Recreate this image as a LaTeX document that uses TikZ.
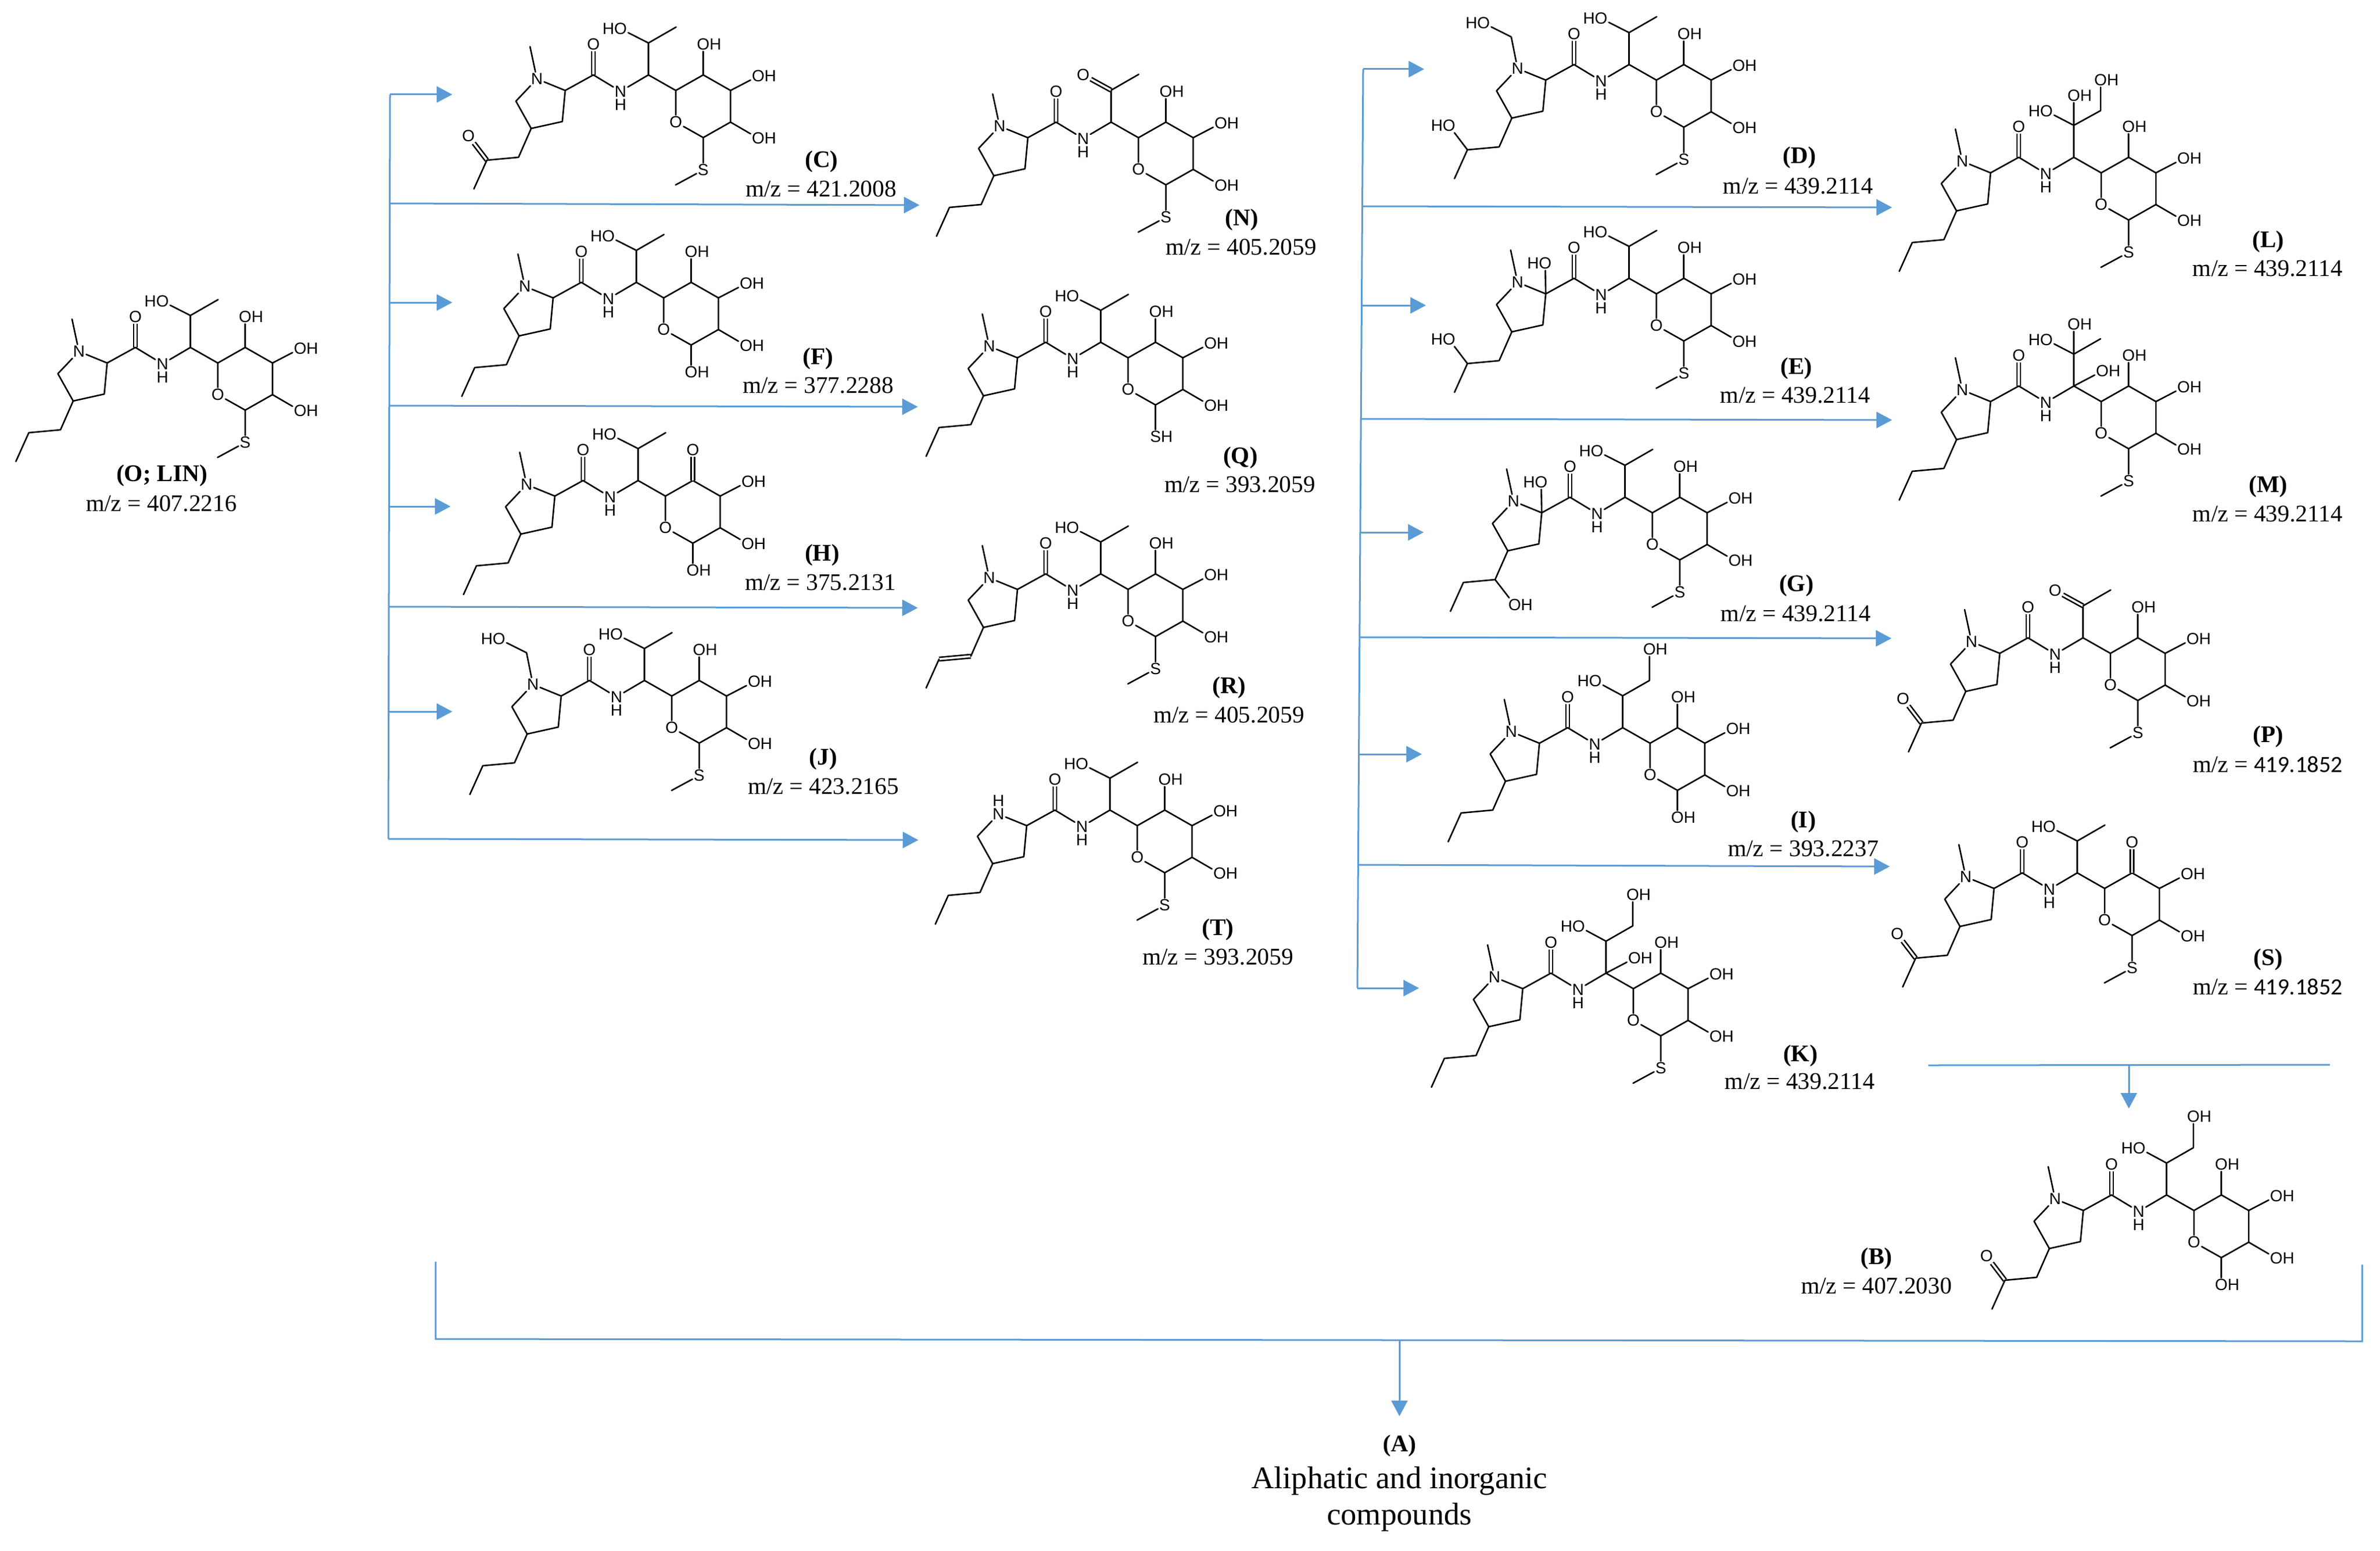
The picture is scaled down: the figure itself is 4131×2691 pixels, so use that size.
\documentclass[tikz,border=0pt]{standalone}
\usepackage{fontspec}
\setmainfont{Liberation Serif}
\newfontfamily\atomfont{Liberation Sans}
\newfontfamily\calfont{Carlito}
\usetikzlibrary{arrows.meta}
\definecolor{flowblue}{HTML}{5B9BD5}
\begin{document}
\begin{tikzpicture}[%
  x=0.01cm,
  y=-0.01cm,
  atomstyle/.style={%
    inner sep=0.012cm,
    outer sep=0.012cm,
    font=\atomfont\fontsize{8}{8}\selectfont,
  },
  bondstyle/.style={%
    line width=0.026cm,
    line cap=round,
    line join=round,
  },
  dbondstyle/.style={%
    bondstyle,
    line cap=butt,
    double,
    double distance=0.035cm,
  },
  flowstyle/.style={%
    draw=flowblue,
    line width=0.03cm,
  },
  arrowstyle/.style={%
    flowstyle,
    -{Triangle[length=0.27cm,width=0.28cm,fill=flowblue]},
  },
  tagstyle/.style={%
    font=\bfseries\fontsize{11.8}{14}\selectfont,
    inner sep=0pt,
  },
  mzstyle/.style={%
    font=\fontsize{11.8}{14}\selectfont,
    inner sep=0pt,
  },
  namestyle/.style={%
    font=\fontsize{15.5}{20}\selectfont,
    inner sep=0pt,
    anchor=base,
  },
  % amide carbon is the origin of every molecule
  pics/core/.style={code={%
    \coordinate (-co) at (0,0);
    \coordinate (-c2) at (-49,27);
    \coordinate (-c3) at (-54,81);
    \coordinate (-c4) at (-108,93);
    \coordinate (-c5) at (-134.5,45.6);
    \coordinate (-c1) at (95.5,0);
    \coordinate (-c6) at (95.5,-55.4);
    \coordinate (-r5) at (143,27);
    \coordinate (-r4) at (190.6,0);
    \coordinate (-r3) at (238,27);
    \coordinate (-r2) at (238,82);
    \coordinate (-r1) at (190.6,108.8);
    \node [atomstyle] (-n) at (-98,7) {N};
    \node [atomstyle] (-oa) at (0,-53) {O};
    \node [atomstyle] (-nh) at (47,28.5) {N};
    \node [atomstyle] (-hh) at (47,51.5) {H};
    \node [atomstyle] (-or) at (143,82) {O};
    \node [atomstyle] (-oh3) at (286,2) {O\rlap{H}};
    \node [atomstyle] (-oh2) at (286,110) {O\rlap{H}};
    \draw [dbondstyle] (-co) -- (-oa);
    \draw [bondstyle] (-n) -- (-c5) -- (-c4) -- (-c3) -- (-c2) -- (-n);
    \draw [bondstyle] (-c2) -- (-co) -- (-nh) -- (-c1) -- (-r5) -- (-r4) -- (-r3) -- (-r2) -- (-r1) -- (-or) -- (-r5);
    \draw [bondstyle] (-c1) -- (-c6);
    \draw [bondstyle] (-r3) -- (-oh3);
    \draw [bondstyle] (-r2) -- (-oh2);
  }},
  pics/nmethyl/.style={code={%
    \coordinate (-me) at (-110,-49);
    \draw [bondstyle] (-n) -- (-me);
  }},
  pics/nhydroxymethyl/.style={code={%
    \coordinate (-ch) at (-109,-48);
    \node [atomstyle] (-ho) at (-157,-72) {\llap{H}O};
    \draw [bondstyle] (-n) -- (-ch) -- (-ho);
  }},
  pics/nhydrogen/.style={code={%
    \node [atomstyle] (-hn) at (-98,-16) {H};
  }},
  pics/propyl/.style={code={%
    \coordinate (-a) at (-130,143);
    \coordinate (-b) at (-185,148);
    \coordinate (-e) at (-207.5,198);
    \draw [bondstyle] (-c4) -- (-a) -- (-b) -- (-e);
  }},
  pics/propenyl/.style={code={%
    \coordinate (-a) at (-130,143);
    \coordinate (-b) at (-185,148);
    \coordinate (-e) at (-207.5,198);
    \draw [dbondstyle] (-a) -- (-b);
    \draw [bondstyle] (-c4) -- (-a);
    \draw [bondstyle] (-b) -- (-e);
  }},
  pics/oxopropyl/.style={code={%
    \coordinate (-a) at (-130,143);
    \coordinate (-b) at (-185,148);
    \coordinate (-e) at (-207.5,198);
    \node [atomstyle] (-ok) at (-217,106) {O};
    \draw [dbondstyle] (-b) -- (-ok);
    \draw [bondstyle] (-c4) -- (-a) -- (-b) -- (-e);
  }},
  pics/hydroxypropyl/.style={code={%
    \coordinate (-a) at (-130,143);
    \coordinate (-b) at (-185,148);
    \coordinate (-e) at (-207.5,198);
    \node [atomstyle] (-ok) at (-217,106) {\llap{H}O};
    \draw [bondstyle] (-b) -- (-ok);
    \draw [bondstyle] (-c4) -- (-a) -- (-b) -- (-e);
  }},
  pics/alphahydroxypropyl/.style={code={%
    \coordinate (-a) at (-130,143);
    \coordinate (-b) at (-185,148);
    \coordinate (-e) at (-207.5,198);
    \node [atomstyle] (-ok) at (-96,187) {O\rlap{H}};
    \draw [bondstyle] (-a) -- (-ok);
    \draw [bondstyle] (-c4) -- (-a) -- (-b) -- (-e);
  }},
  pics/ringhydroxy/.style={code={%
    \node [atomstyle] (-oc2) at (-50,-26) {\llap{H}O};
    \draw [bondstyle] (-c2) -- (-oc2);
  }},
  pics/hydroxyethyl/.style={code={%
    \node [atomstyle] (-ho6) at (47,-80) {\llap{H}O};
    \coordinate (-m6) at (143.5,-83);
    \draw [bondstyle] (-ho6) -- (-c6) -- (-m6);
  }},
  pics/acetyl/.style={code={%
    \node [atomstyle] (-o6) at (47,-82) {O};
    \coordinate (-m6) at (143.5,-83);
    \draw [dbondstyle] (-c6) -- (-o6);
    \draw [bondstyle] (-c6) -- (-m6);
  }},
  pics/diol/.style={code={%
    \node [atomstyle] (-ho6) at (48,-81) {\llap{H}O};
    \coordinate (-m6) at (142,-82);
    \node [atomstyle] (-ho7) at (142,-136) {O\rlap{H}};
    \draw [bondstyle] (-ho6) -- (-c6) -- (-m6) -- (-ho7);
  }},
  pics/triol/.style={code={%
    \node [atomstyle] (-ho6) at (48,-80) {\llap{H}O};
    \node [atomstyle] (-ho8) at (95.5,-107) {O\rlap{H}};
    \coordinate (-m6) at (142,-81);
    \node [atomstyle] (-ho7) at (142,-134) {O\rlap{H}};
    \draw [bondstyle] (-ho6) -- (-c6) -- (-m6) -- (-ho7);
    \draw [bondstyle] (-c6) -- (-ho8);
  }},
  pics/geminaldiol/.style={code={%
    \node [atomstyle] (-ho6) at (48,-80) {\llap{H}O};
    \node [atomstyle] (-ho8) at (95.5,-107) {O\rlap{H}};
    \coordinate (-m6) at (142,-82);
    \draw [bondstyle] (-ho6) -- (-c6) -- (-m6);
    \draw [bondstyle] (-c6) -- (-ho8);
  }},
  pics/cahydroxy/.style={code={%
    \node [atomstyle] (-ohc) at (145,-26) {O\rlap{H}};
    \draw [bondstyle] (-c1) -- (-ohc);
  }},
  pics/sugaroh/.style={code={%
    \node [atomstyle] (-oh4) at (190.6,-53) {O\rlap{H}};
    \draw [bondstyle] (-r4) -- (-oh4);
  }},
  pics/sugarketo/.style={code={%
    \node [atomstyle] (-oh4) at (190.6,-53) {O};
    \draw [dbondstyle] (-r4) -- (-oh4);
  }},
  pics/thiomethyl/.style={code={%
    \node [atomstyle] (-s) at (190.6,165) {S};
    \coordinate (-sm) at (142.6,191);
    \draw [bondstyle] (-r1) -- (-s) -- (-sm);
  }},
  pics/thiol/.style={code={%
    \node [atomstyle] (-s) at (190.6,164) {S\rlap{H}};
    \draw [bondstyle] (-r1) -- (-s);
  }},
  pics/anomerichydroxy/.style={code={%
    \node [atomstyle] (-oh1) at (190.6,156) {O\rlap{H}};
    \draw [bondstyle] (-r1) -- (-oh1);
  }},
]
  \useasboundingbox (0,0) rectangle (4131,2691);

  % molecules
  \path (235,603) pic (O) {core} pic (O) {nmethyl} pic (O) {propyl} pic (O) {hydroxyethyl} pic (O) {sugaroh} pic (O) {thiomethyl};
  \path (1030,130) pic (C) {core} pic (C) {nmethyl} pic (C) {oxopropyl} pic (C) {hydroxyethyl} pic (C) {sugaroh} pic (C) {thiomethyl};
  \path (1009,490) pic (F) {core} pic (F) {nmethyl} pic (F) {propyl} pic (F) {hydroxyethyl} pic (F) {sugaroh} pic (F) {anomerichydroxy};
  \path (1012,834) pic (H) {core} pic (H) {nmethyl} pic (H) {propyl} pic (H) {hydroxyethyl} pic (H) {sugarketo} pic (H) {anomerichydroxy};
  \path (1023,1181) pic (J) {core} pic (J) {nhydroxymethyl} pic (J) {propyl} pic (J) {hydroxyethyl} pic (J) {sugaroh} pic (J) {thiomethyl};
  \path (1833,212) pic (N) {core} pic (N) {nmethyl} pic (N) {propyl} pic (N) {acetyl} pic (N) {sugaroh} pic (N) {thiomethyl};
  \path (1815,594) pic (Q) {core} pic (Q) {nmethyl} pic (Q) {propyl} pic (Q) {hydroxyethyl} pic (Q) {sugaroh} pic (Q) {thiol};
  \path (1815,996) pic (R) {core} pic (R) {nmethyl} pic (R) {propenyl} pic (R) {hydroxyethyl} pic (R) {sugaroh} pic (R) {thiomethyl};
  \path (1831,1406) pic (T) {core} pic (T) {nhydrogen} pic (T) {propyl} pic (T) {hydroxyethyl} pic (T) {sugaroh} pic (T) {thiomethyl};
  \path (2732,112) pic (D) {core} pic (D) {nhydroxymethyl} pic (D) {hydroxypropyl} pic (D) {hydroxyethyl} pic (D) {sugaroh} pic (D) {thiomethyl};
  \path (2732,483) pic (E) {core} pic (E) {nmethyl} pic (E) {ringhydroxy} pic (E) {hydroxypropyl} pic (E) {hydroxyethyl} pic (E) {sugaroh} pic (E) {thiomethyl};
  \path (2725,863) pic (G) {core} pic (G) {nmethyl} pic (G) {ringhydroxy} pic (G) {alphahydroxypropyl} pic (G) {hydroxyethyl} pic (G) {sugaroh} pic (G) {thiomethyl};
  \path (2721,1263) pic (I) {core} pic (I) {nmethyl} pic (I) {propyl} pic (I) {diol} pic (I) {sugaroh} pic (I) {anomerichydroxy};
  \path (2692,1689) pic (K) {core} pic (K) {nmethyl} pic (K) {propyl} pic (K) {diol} pic (K) {cahydroxy} pic (K) {sugaroh} pic (K) {thiomethyl};
  \path (3504,273) pic (L) {core} pic (L) {nmethyl} pic (L) {propyl} pic (L) {triol} pic (L) {sugaroh} pic (L) {thiomethyl};
  \path (3504,670) pic (M) {core} pic (M) {nmethyl} pic (M) {propyl} pic (M) {geminaldiol} pic (M) {cahydroxy} pic (M) {sugaroh} pic (M) {thiomethyl};
  \path (3520,1107) pic (P) {core} pic (P) {nmethyl} pic (P) {oxopropyl} pic (P) {acetyl} pic (P) {sugaroh} pic (P) {thiomethyl};
  \path (3510,1515) pic (S) {core} pic (S) {nmethyl} pic (S) {oxopropyl} pic (S) {hydroxyethyl} pic (S) {sugarketo} pic (S) {thiomethyl};
  \path (3665,2074) pic (B) {core} pic (B) {nmethyl} pic (B) {oxopropyl} pic (B) {diol} pic (B) {sugaroh} pic (B) {anomerichydroxy};

  % labels
  \node [tagstyle] (tagO) at (281,826) {(O; LIN)};
  \node [mzstyle] (mzO) at (280,874) {m/z = 407.2216};
  \node [tagstyle] (tagC) at (1426,281) {(C)};
  \node [mzstyle] (mzC) at (1425,328) {m/z = 421.2008};
  \node [tagstyle] (tagF) at (1420,623) {(F)};
  \node [mzstyle] (mzF) at (1420,669) {m/z = 377.2288};
  \node [tagstyle] (tagH) at (1427,964) {(H)};
  \node [mzstyle] (mzH) at (1424,1011) {m/z = 375.2131};
  \node [tagstyle] (tagJ) at (1429,1318) {(J)};
  \node [mzstyle] (mzJ) at (1429,1365) {m/z = 423.2165};
  \node [tagstyle] (tagN) at (2155,382) {(N)};
  \node [mzstyle] (mzN) at (2154,429) {m/z = 405.2059};
  \node [tagstyle] (tagQ) at (2153,795) {(Q)};
  \node [mzstyle] (mzQ) at (2152,841) {m/z = 393.2059};
  \node [tagstyle] (tagR) at (2133,1194) {(R)};
  \node [mzstyle] (mzR) at (2133,1241) {m/z = 405.2059};
  \node [tagstyle] (tagT) at (2114,1613) {(T)};
  \node [mzstyle] (mzT) at (2114,1661) {m/z = 393.2059};
  \node [tagstyle] (tagD) at (3123,274) {(D)};
  \node [mzstyle] (mzD) at (3121,323) {m/z = 439.2114};
  \node [tagstyle] (tagE) at (3118,640) {(E)};
  \node [mzstyle] (mzE) at (3116,686) {m/z = 439.2114};
  \node [tagstyle] (tagG) at (3118,1017) {(G)};
  \node [mzstyle] (mzG) at (3117,1065) {m/z = 439.2114};
  \node [tagstyle] (tagI) at (3130,1427) {(I)};
  \node [mzstyle] (mzI) at (3130,1473) {m/z = 393.2237};
  \node [tagstyle] (tagK) at (3125,1832) {(K)};
  \node [mzstyle] (mzK) at (3124,1877) {m/z = 439.2114};
  \node [tagstyle] (tagL) at (3937,420) {(L)};
  \node [mzstyle] (mzL) at (3936,466) {m/z = 439.2114};
  \node [tagstyle] (tagM) at (3937,845) {(M)};
  \node [mzstyle] (mzM) at (3936,892) {m/z = 439.2114};
  \node [tagstyle] (tagP) at (3937,1279) {(P)};
  \node [mzstyle] (mzP) at (3936,1327) {m/z = {\calfont\fontsize{11.5}{14}\selectfont 419.1852}};
  \node [tagstyle] (tagS) at (3937,1665) {(S)};
  \node [mzstyle] (mzS) at (3936,1713) {m/z = {\calfont\fontsize{11.5}{14}\selectfont 419.1852}};
  \node [tagstyle] (tagB) at (3257,2184) {(B)};
  \node [mzstyle] (mzB) at (3257,2232) {m/z = 407.2030};
  \node [tagstyle] (tagA) at (2429,2509) {(A)};
  \node [namestyle] (nameA) at (2429,2583) {Aliphatic and inorganic};
  \node [namestyle] (nameAb) at (2429,2646) {compounds};

  % left branch
  \coordinate (startC) at (677,164);
  \coordinate (tipC) at (785,164);
  \coordinate (startN) at (677,353);
  \coordinate (tipN) at (1596,356);
  \coordinate (startF) at (677,525);
  \coordinate (tipF) at (785,525);
  \coordinate (startQ) at (676,704);
  \coordinate (tipQ) at (1593,706);
  \coordinate (startH) at (676,879);
  \coordinate (tipH) at (782,879);
  \coordinate (startR) at (675,1053);
  \coordinate (tipR) at (1593,1055);
  \coordinate (startJ) at (675,1235);
  \coordinate (tipJ) at (785,1235);
  \coordinate (startT) at (674,1456);
  \coordinate (tipT) at (1594,1458);
  \draw [flowstyle] (startC) -- (startT);
  \draw [arrowstyle] (startC) -- (tipC);
  \draw [arrowstyle] (startN) -- (tipN);
  \draw [arrowstyle] (startF) -- (tipF);
  \draw [arrowstyle] (startQ) -- (tipQ);
  \draw [arrowstyle] (startH) -- (tipH);
  \draw [arrowstyle] (startR) -- (tipR);
  \draw [arrowstyle] (startJ) -- (tipJ);
  \draw [arrowstyle] (startT) -- (tipT);

  % right branch
  \coordinate (startD) at (2366,120);
  \coordinate (tipD) at (2472,120);
  \coordinate (startL) at (2365,358);
  \coordinate (tipL) at (3284,360);
  \coordinate (startE) at (2364,530);
  \coordinate (tipE) at (2475,530);
  \coordinate (startM) at (2363,727);
  \coordinate (tipM) at (3284,729);
  \coordinate (startG) at (2362,924);
  \coordinate (tipG) at (2471,924);
  \coordinate (startP) at (2361,1106);
  \coordinate (tipP) at (3283,1108);
  \coordinate (startI) at (2360,1309);
  \coordinate (tipI) at (2468,1309);
  \coordinate (startS) at (2359,1501);
  \coordinate (tipS) at (3280,1504);
  \coordinate (startK) at (2356,1715);
  \coordinate (tipK) at (2463,1715);
  \draw [flowstyle] (startD) -- (startK);
  \draw [arrowstyle] (startD) -- (tipD);
  \draw [arrowstyle] (startL) -- (tipL);
  \draw [arrowstyle] (startE) -- (tipE);
  \draw [arrowstyle] (startM) -- (tipM);
  \draw [arrowstyle] (startG) -- (tipG);
  \draw [arrowstyle] (startP) -- (tipP);
  \draw [arrowstyle] (startI) -- (tipI);
  \draw [arrowstyle] (startS) -- (tipS);
  \draw [arrowstyle] (startK) -- (tipK);

  % bar to B
  \coordinate (barleft) at (3347,1849);
  \coordinate (barright) at (4044,1848);
  \coordinate (barmid) at (3695,1849);
  \coordinate (tipB) at (3695,1924);
  \draw [flowstyle] (barleft) -- (barright);
  \draw [arrowstyle] (barmid) -- (tipB);

  % bracket to A
  \coordinate (brackettl) at (756,2190);
  \coordinate (bracketbl) at (756,2324);
  \coordinate (bracketbr) at (4100,2328);
  \coordinate (brackettr) at (4100,2195);
  \coordinate (bracketmid) at (2429,2325);
  \coordinate (tipA) at (2429,2458);
  \draw [flowstyle] (brackettl) -- (bracketbl) -- (bracketbr) -- (brackettr);
  \draw [arrowstyle] (bracketmid) -- (tipA);
\end{tikzpicture}
\end{document}
